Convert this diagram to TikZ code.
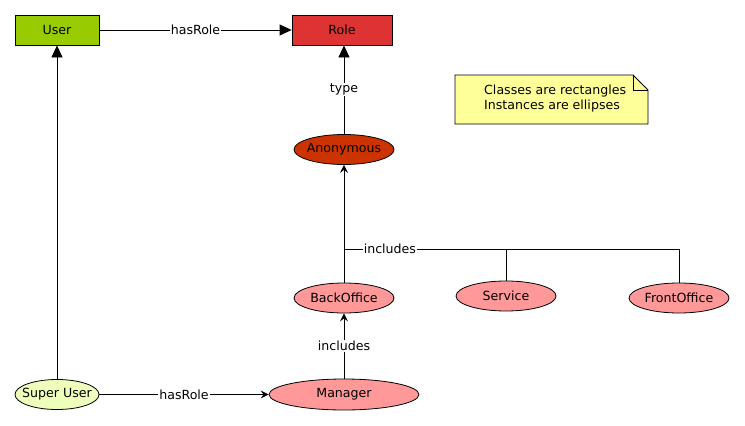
\documentclass[tikz,border=0pt]{standalone}
\usepackage{fontspec}
\setmainfont{DejaVu Sans}
\usetikzlibrary{shapes,arrows.meta,positioning}
\definecolor{usergreen}{HTML}{99CC00}
\definecolor{rolered}{HTML}{DD3333}
\definecolor{anonred}{HTML}{CC3300}
\definecolor{instpink}{HTML}{FF9999}
\definecolor{superpale}{HTML}{EEFFBB}
\definecolor{noteyellow}{HTML}{FFFF99}
\tikzset{
	cls/.style={rectangle,draw,inner sep=0,minimum width=84,minimum height=30,line width=0.8pt},
	inst/.style={ellipse,draw,inner xsep=-6pt,inner ysep=-2pt,minimum width=100,minimum height=30,line width=0.8pt},
	edge/.style={color=black, line width=0.8pt},
	clsedge/.style={-{Triangle[width=11pt,length=12pt]},color=black, line width=0.8pt},
	instedge/.style={-{Stealth[width=8pt,length=8pt,inset=3pt]},color=black, line width=0.8pt},
	edgelabel/.style={fill=white,inner sep=1pt, text centered}
}
\begin{document}
\begin{tikzpicture}[x=1pt,y=-1pt,font=\fontsize{12.6pt}{15pt}\selectfont]
		\useasboundingbox (0,0) rectangle (745,426);
		%%%classes
		\node[cls,fill=usergreen] (user) at (57,30) {User};
		\node[cls,fill=rolered,minimum width=100] (role) at (342,30) {Role};
		
		%%%instances
		\node[inst,fill=anonred] (anon) at (344,149.5) {Anonymous};
		\node[inst,fill=instpink] (bo) at (344,298) {BackOffice};
		\node[inst,fill=instpink] (svc) at (506,296) {Service};
		\node[inst,fill=instpink] (fo) at (679,298) {FrontOffice};
		\node[inst,fill=instpink,minimum width=150,minimum height=31] (mgr) at (344,394.5) {Manager};
		\node[inst,fill=superpale,minimum width=84] (su) at (57,394.5) {Super User};
		
		%%%% note
		\draw[edge,fill=noteyellow] (455,75) -- (633,75) -- (648,90) -- (648,124) -- (455,124) -- cycle;
		\draw[edge] (633,75) -- (633,90) -- (648,90);
		\node[anchor=west,align=left,inner sep=0] (note) at (484,99) {Classes are rectangles\\Instances are ellipses};
		
		\draw[clsedge] (user) -- node[edgelabel] {hasRole} (role);
		\draw[clsedge] (su) -- (user);
		\draw[clsedge] (anon) -- node[edgelabel] {type} (anon |- role.south);
		
		\draw[instedge] (su) -- node[edgelabel] {hasRole} (mgr);
		\draw[instedge] (mgr) -- node[edgelabel] {includes} (bo);
		\draw[instedge] (bo) -- (anon);
		
		%%%% includes bus
		\coordinate (bus) at (344,249);
		\draw[edge] (bus) -- node[edgelabel,pos=0.137] {includes} (fo.north |- bus) -- (fo);
		\draw[edge] (svc) -- (svc.north |- bus);
	\end{tikzpicture}
\end{document}
